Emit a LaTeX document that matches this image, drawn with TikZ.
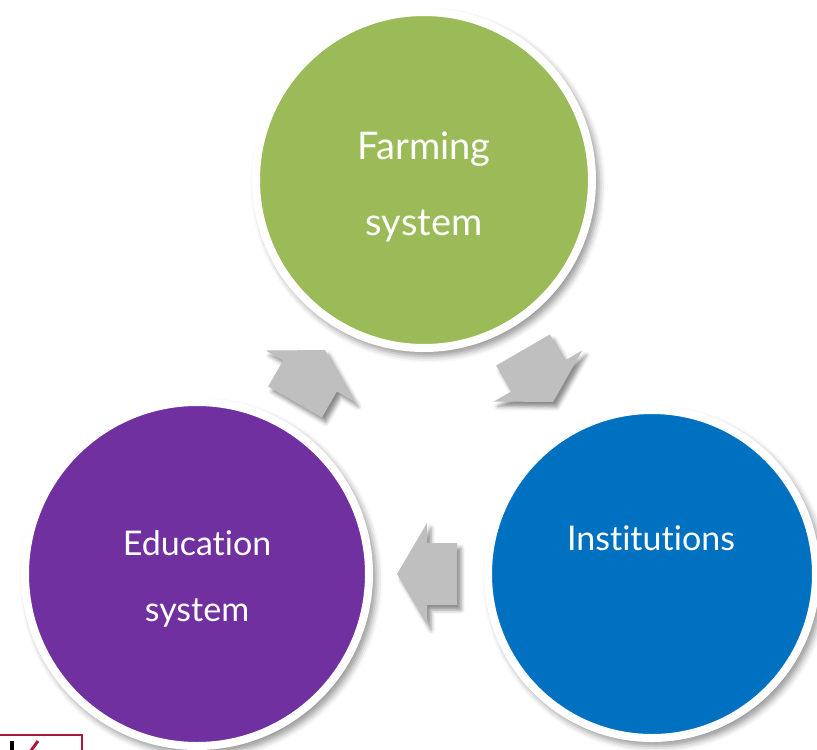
\documentclass[tikz,border=0pt]{standalone}
\usepackage{fontspec}
\setmainfont{Lato}[Ligatures=NoCommon]
\usetikzlibrary{positioning,calc,shadows.blur}

\definecolor{farmgreen}{RGB}{155,187,89}
\definecolor{edupurple}{RGB}{112,48,160}
\definecolor{instblue}{RGB}{0,112,192}
\definecolor{arrowgrey}{RGB}{191,191,191}
\definecolor{logored}{RGB}{170,25,60}

\tikzset{
  bubble/.style={circle, fill=#1, draw=white, line width=8pt, inner sep=0pt,
    blur shadow={shadow xshift=4pt, shadow yshift=-5pt, shadow blur radius=6pt,
      shadow opacity=40, shadow scale=1.02}},
  lbl/.style={text=white, align=center, font=\fontsize{34}{66}\selectfont},
  cycle arrow/.style={fill=arrowgrey,
    blur shadow={shadow xshift=4pt, shadow yshift=-5pt, shadow blur radius=4pt,
      shadow opacity=45}}
}
\newcommand{\cycarrow}[3]{\coordinate (#1) at (#2);
  \path[cycle arrow, shift={(#1)}, rotate=#3]
    (30,0) -- (0,51) -- (0,31) -- (-30,31) -- (-30,-31) -- (0,-31) -- (0,-51) -- cycle}

\begin{document}
\begin{tikzpicture}[x=1pt, y=-1pt]
\useasboundingbox (0,0) rectangle (817,750);

\node[bubble=farmgreen, minimum size=336pt] (farm) at (424,180) {};
\node[bubble=edupurple, minimum size=344pt] (edu) at (197,574) {};
\node[bubble=instblue, minimum size=328pt] (inst) at (652,574) {};

\node[lbl, font=\fontsize{38}{76}\selectfont] (farmlbl) at (424,187) {Farming\\system};
\node[lbl] (edulbl) at (197,579) {Education\\system};
\node[lbl] (instlbl) at (651,538) {Institutions};

\cycarrow{toinst}{538,376}{-60};
\cycarrow{toedu}{427,574}{180};
\cycarrow{tofarm}{310,376}{60};

% cut-off logo in the corner
\begin{scope}
\clip (0,0) rectangle (817,750);
\draw[logored, line width=2pt] (-2,735) rectangle (82,770);
\fill[black] (10,741) rectangle (14,752);
\draw[logored, line width=3pt] (30,752) -- (38,741);
\end{scope}

\end{tikzpicture}
\end{document}
